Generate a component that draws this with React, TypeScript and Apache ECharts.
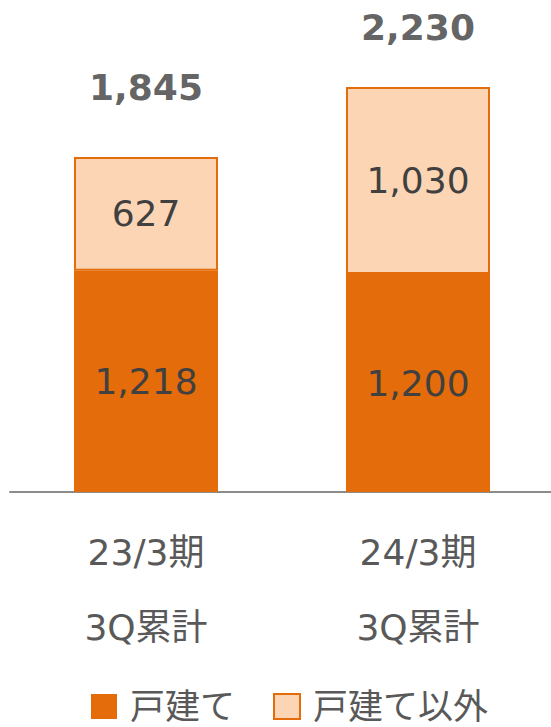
import React, { useEffect, useRef } from "react";
import * as echarts from "echarts";

const categories = ["23/3期\n3Q累計", "24/3期\n3Q累計"];
const detachedValues = [1218, 1200];
const otherValues = [627, 1030];
const totals = [1845, 2230];
const seriesNames = ["戸建て", "戸建て以外"];

const DARK = "#E46C0A";
const LIGHT = "#FCD5B5";
const FONT = "'DejaVu Sans', 'Noto Sans CJK JP', sans-serif";

const fmt = (v: number) => v.toLocaleString("en-US");

export default function App() {
  const ref = useRef<HTMLDivElement>(null);
  useEffect(() => {
    if (!ref.current) return;
    const chart = echarts.init(ref.current, undefined, { renderer: "svg" });
    const totalOffsets = [[0, -1], [0, 8]];
    chart.setOption({
      animation: false,
      textStyle: { fontFamily: FONT },
      grid: { left: 10, width: 544, top: 38, height: 454, containLabel: false },
      legend: {
        left: 86,
        top: 684,
        itemWidth: 26,
        itemHeight: 25,
        itemGap: 38,
        icon: "rect",
        textStyle: {
          fontSize: 35,
          lineHeight: 35,
          color: "#595959",
          fontFamily: FONT,
          padding: [0, 0, 0, 8],
        },
        data: seriesNames,
      },
      xAxis: {
        type: "category",
        data: categories,
        axisLine: { show: true, lineStyle: { color: "#8C8C8C", width: 2 } },
        axisTick: { show: false },
        axisLabel: {
          color: "#595959",
          fontSize: 36,
          lineHeight: 75,
          margin: 23,
          fontFamily: FONT,
        },
      },
      yAxis: {
        type: "value",
        min: 0,
        max: 2500,
        show: false,
        splitLine: { show: false },
      },
      series: [
        {
          name: seriesNames[0],
          type: "bar",
          stack: "total",
          barWidth: 144,
          data: detachedValues,
          itemStyle: { color: DARK },
          label: {
            show: true,
            position: "inside",
            formatter: (p: any) => fmt(p.value),
            fontSize: 36,
            color: "#404040",
            fontFamily: FONT,
          },
        },
        {
          name: seriesNames[1],
          type: "bar",
          stack: "total",
          barWidth: 144,
          data: otherValues,
          itemStyle: { color: LIGHT, borderColor: DARK, borderWidth: 2 },
          label: {
            show: true,
            position: "inside",
            formatter: (p: any) => fmt(p.value),
            fontSize: 36,
            color: "#404040",
            fontFamily: FONT,
          },
        },
        {
          name: "total",
          type: "scatter",
          symbolSize: 0,
          data: totals.map((v, i) => ({
            value: v,
            label: { offset: totalOffsets[i] },
          })),
          label: {
            show: true,
            position: "top",
            distance: 50,
            formatter: (p: any) => fmt(totals[p.dataIndex]),
            fontSize: 36,
            fontWeight: "bold",
            color: "#3A3A3A",
            fontFamily: FONT,
          },
          tooltip: { show: false },
        },
      ],
    });
    return () => chart.dispose();
  }, []);
  return (
    <div
      style={{ position: "fixed", left: 0, top: 0, width: 551, height: 727, overflow: "hidden", background: "#fff" }}
    >
      <div ref={ref} style={{ width: 560, height: 727 }} />
    </div>
  );
}
